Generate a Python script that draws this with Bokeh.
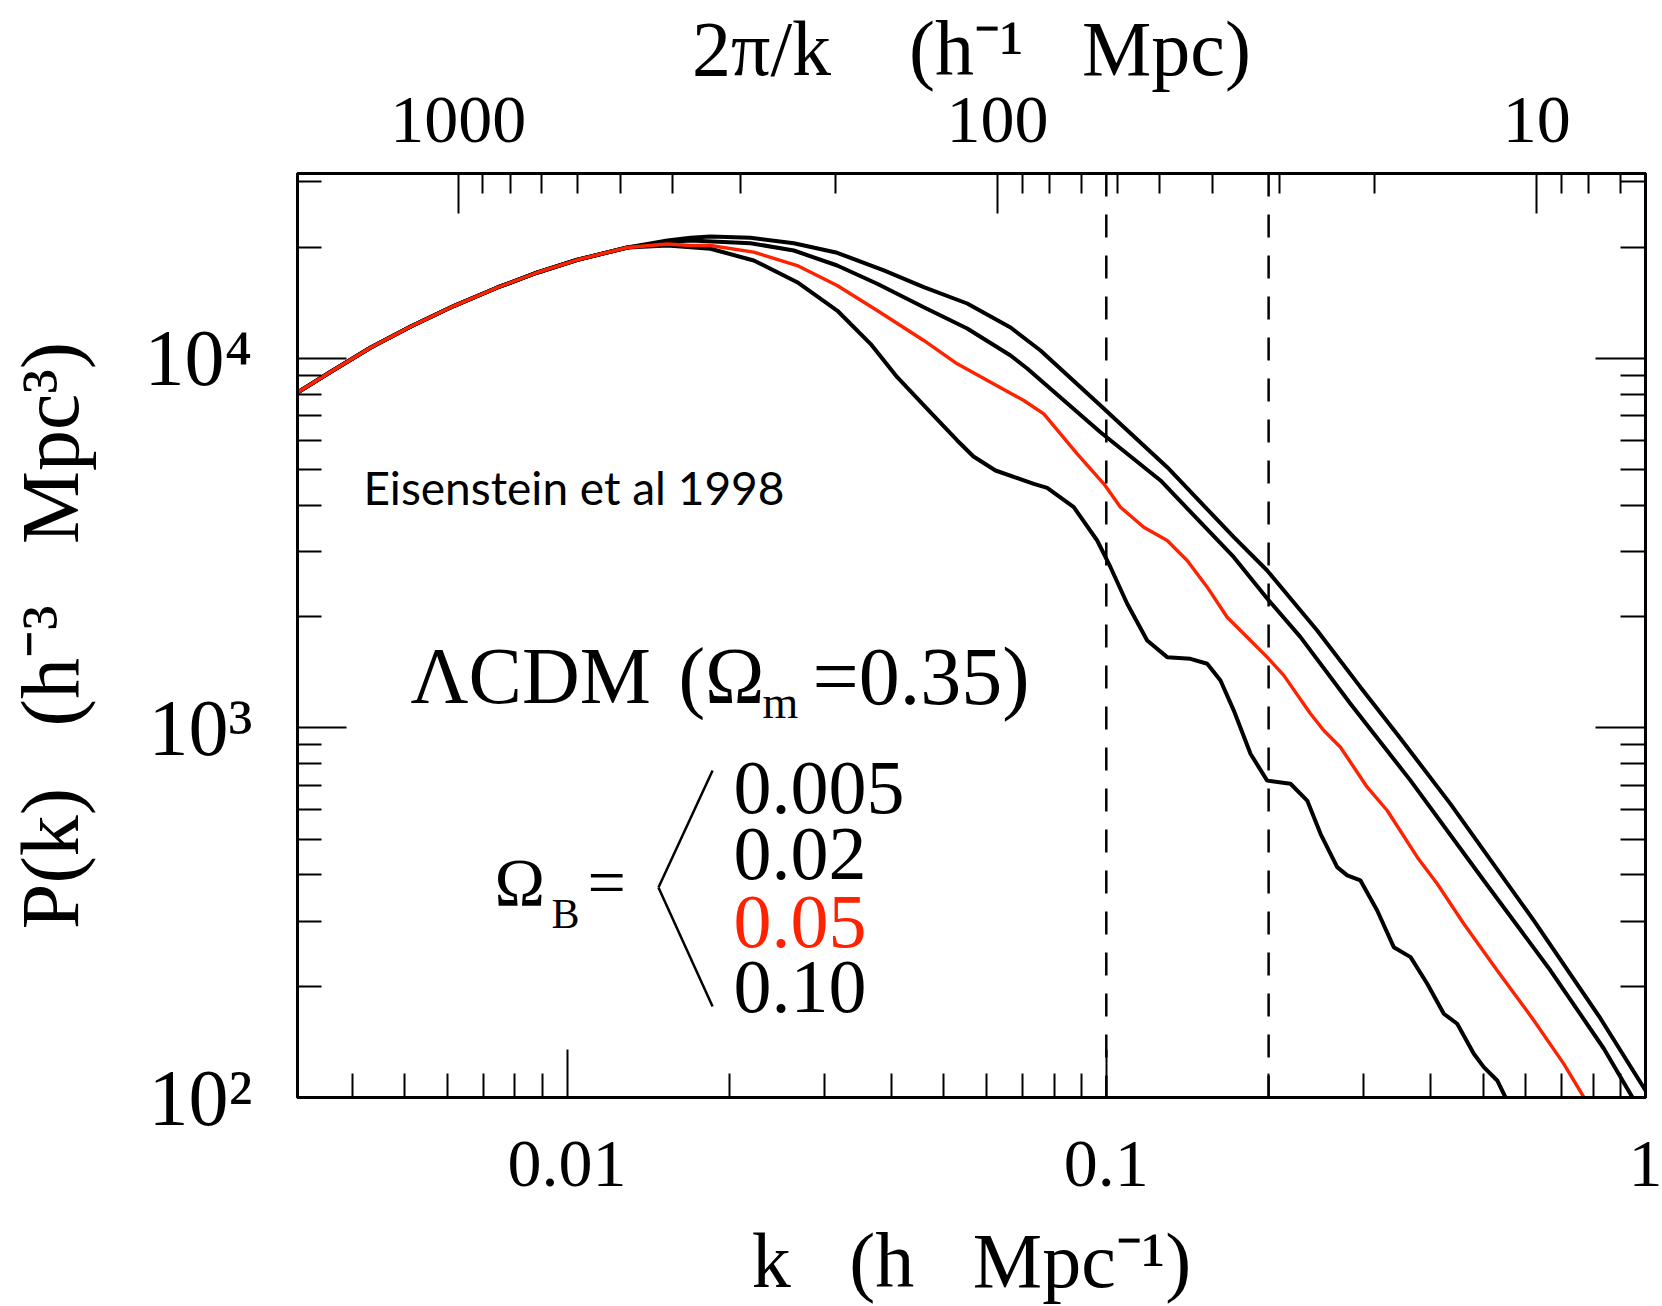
from bokeh.plotting import figure
from bokeh.models import (FixedTicker, LogAxis, CustomJSTickFormatter, Label, Span,
                          Arrow, Range1d)
from bokeh.embed import file_html
from bokeh.resources import INLINE
import math

# ---------------- data ----------------
K_COMMON = [0.003162, 0.003646, 0.004324, 0.005129, 0.006175, 0.007428, 0.008814, 0.010455, 0.012942]
P_COMMON = [8080, 9193, 10696, 12190, 13868, 15546, 17069, 18475, 19943]

# Omega_B = 0.005
K_005 = K_COMMON + [0.015356, 0.016939, 0.018446, 0.021878, 0.026331, 0.031688, 0.038673, 0.045867,
                    0.055208, 0.066438, 0.075509, 0.097543, 0.12969, 0.17239, 0.19877, 0.24609,
                    0.29606, 0.35129, 0.43471, 0.62086, 0.82507, 1.0]
P_005 = P_COMMON + [20834, 21184, 21357, 21184, 20484, 19298, 17286, 15574,
                    14069, 12114, 10498, 7452, 5075, 3281, 2666, 1834,
                    1289, 936, 623, 301, 163.6, 104.5]

# Omega_B = 0.02
K_02 = K_COMMON + [0.015356, 0.016939, 0.021878, 0.026331, 0.031688, 0.037594, 0.045867, 0.055208,
                   0.066438, 0.071335, 0.097543, 0.12604, 0.17239, 0.19877, 0.22918, 0.28366,
                   0.36669, 0.50130, 0.66648, 0.83673, 0.94606]
P_02 = P_COMMON + [20640, 20834, 20484, 19572, 17827, 15907, 13749, 12039,
                   10176, 9385, 6311, 4671, 2897, 2239, 1760, 1162,
                   720, 386.5, 220.6, 135.7, 100.0]

# Omega_B = 0.05 (red)
K_05 = K_COMMON + [0.015356, 0.016939, 0.018446, 0.022193, 0.026715, 0.031688, 0.037594, 0.045867,
                   0.052906, 0.066438, 0.070307, 0.076578, 0.088308, 0.098946, 0.10624, 0.11737,
                   0.12969, 0.14125, 0.15389, 0.16757, 0.18511, 0.19877, 0.21340, 0.23917,
                   0.25317, 0.27182, 0.30471, 0.33189, 0.37731, 0.41089, 0.46026, 0.53088,
                   0.62086, 0.70551, 0.76843]
P_05 = P_COMMON + [20385, 20195, 20195, 19370, 17827, 15740, 13467, 11175,
                   9663, 8047, 7689, 7076, 5515, 4575, 3955, 3491,
                   3214, 2838, 2403, 1993, 1724, 1554, 1387, 1092,
                   984, 886.7, 691, 597.7, 446.9, 378.6, 295.1, 220.6,
                   161.6, 123.3, 100.2]

# Omega_B = 0.10
K_10 = K_COMMON + [0.015356, 0.016939, 0.018446, 0.022193, 0.026715, 0.031688, 0.036536, 0.040950,
                   0.047206, 0.052906, 0.056710, 0.062304, 0.073367, 0.077693, 0.087035, 0.096183,
                   0.10181, 0.10934, 0.11908, 0.12969, 0.14324, 0.15389, 0.16285, 0.17239,
                   0.18511, 0.19877, 0.21958, 0.23584, 0.24964, 0.26804, 0.27974, 0.29606,
                   0.31799, 0.34131, 0.36669, 0.39373, 0.42260, 0.44747, 0.48042, 0.50130,
                   0.53088, 0.55004]
P_10 = P_COMMON + [20195, 19983, 19786, 18394, 16066, 13467, 10944, 8890,
                   7136, 5993, 5425, 4971, 4575, 4463, 3955, 3214,
                   2721, 2167, 1724, 1554, 1538, 1491, 1344, 1114,
                   851, 720, 706, 636, 517, 420, 399, 386.5,
                   320.6, 255.1, 239.8, 203.1, 168.5, 158.3, 131.3, 120.8,
                   111.2, 100]

DASHED_K = [0.1, 0.2]
OMEGA_B_LABELS = ["0.005", "0.02", "0.05", "0.10"]

# axis ticks
K_MAJOR = [0.01, 0.1, 1.0]
K_MINOR = [0.004, 0.005, 0.006, 0.007, 0.008, 0.009,
           0.02, 0.03, 0.04, 0.05, 0.06, 0.07, 0.08, 0.09,
           0.2, 0.3, 0.4, 0.5, 0.6, 0.7, 0.8, 0.9]
P_MAJOR = [100, 1000, 10000]
P_MINOR = [200, 300, 400, 500, 600, 700, 800, 900,
           2000, 3000, 4000, 5000, 6000, 7000, 8000, 9000,
           20000, 30000]
L_MAJOR = [1000, 100, 10]          # 2pi/k  (h^-1 Mpc)
L_MINOR = [900, 800, 700, 600, 500, 400, 300, 200,
           90, 80, 70, 60, 50, 40, 30, 20, 9, 8, 7]

X_MIN, X_MAX = 10 ** -2.5, 1.0
Y_MIN, Y_MAX = 100.0, 10 ** 4.5

RED = "#ff2200"
SERIF = "Liberation Serif"
NB = "\u00a0"

# ---------------- figure ----------------
p = figure(frame_width=1348, frame_height=924,
           x_axis_type="log", y_axis_type="log",
           x_range=Range1d(X_MIN, X_MAX), y_range=Range1d(Y_MIN, Y_MAX),
           output_backend="svg", toolbar_location=None,
           min_border_left=297, min_border_right=17,
           min_border_top=173, min_border_bottom=209,
           background_fill_color="white", border_fill_color="white")
p.grid.visible = False
p.outline_line_color = "black"
p.outline_line_width = 3


def style_axis(ax, tin, tmin):
    ax.axis_line_color = "black"
    ax.axis_line_width = 3
    ax.major_tick_in = tin
    ax.major_tick_out = 0
    ax.minor_tick_in = tmin
    ax.minor_tick_out = 0
    ax.major_tick_line_width = 2
    ax.minor_tick_line_width = 2
    ax.major_tick_line_color = "black"
    ax.minor_tick_line_color = "black"
    ax.major_label_text_color = "black"
    ax.major_label_text_font = SERIF
    ax.axis_label_text_font = SERIF
    ax.axis_label_text_font_style = "normal"
    ax.axis_label_text_color = "black"


x_ticker = FixedTicker(ticks=K_MAJOR, minor_ticks=K_MINOR)
y_ticker = FixedTicker(ticks=P_MAJOR, minor_ticks=P_MINOR)
top_ticker = FixedTicker(ticks=[2 * math.pi / v for v in L_MAJOR],
                         minor_ticks=[2 * math.pi / v for v in L_MINOR])

sup_fmt = CustomJSTickFormatter(code="""
const sup = {"0":"\u2070","1":"\u00b9","2":"\u00b2","3":"\u00b3","4":"\u2074","5":"\u2075",
             "6":"\u2076","7":"\u2077","8":"\u2078","9":"\u2079","-":"\u207b"};
const e = Math.round(Math.log10(tick)).toString();
return "10" + e.split("").map(c => sup[c]).join("");
""")

# bottom
xa = p.xaxis[0]
xa.ticker = x_ticker
xa.formatter = CustomJSTickFormatter(code="return tick.toString();")
style_axis(xa, 48, 24)
xa.major_label_text_font_size = "68px"
xa.major_label_standoff = 44
xa.axis_label = "k" + NB * 3 + "(h" + NB * 3 + "Mpc\u207b\u00b9)"
xa.axis_label_text_font_size = "78px"
xa.axis_label_standoff = 28

# left
ya = p.yaxis[0]
ya.ticker = y_ticker
ya.formatter = sup_fmt
style_axis(ya, 49, 24)
ya.major_label_text_font_size = "80px"
ya.major_label_standoff = 45
ya.axis_label = "P(k)" + NB * 3 + "(h\u207b\u00b3" + NB * 3 + "Mpc\u00b3)"
ya.axis_label_text_font_size = "82px"
ya.axis_label_standoff = 46

# top
ta = LogAxis(ticker=top_ticker,
             formatter=CustomJSTickFormatter(code="return Math.round(2*Math.PI/tick).toString();"))
style_axis(ta, 40, 20)
ta.major_label_text_font_size = "68px"
ta.major_label_standoff = 32
ta.axis_label = "2\u03c0/k" + NB * 4 + "(h\u207b\u00b9" + NB * 3 + "Mpc)"
ta.axis_label_text_font_size = "78px"
ta.axis_label_standoff = 3
p.add_layout(ta, "above")

# right
ra = LogAxis(ticker=y_ticker)
style_axis(ra, 50, 25)
ra.major_label_text_font_size = "0px"
ra.major_label_standoff = 0
ra.formatter = CustomJSTickFormatter(code="return '';")
p.add_layout(ra, "right")

# ---------------- curves ----------------
p.line(K_005, P_005, line_color="black", line_width=4)
p.line(K_02, P_02, line_color="black", line_width=4)
p.line(K_10, P_10, line_color="black", line_width=4)
p.line(K_05, P_05, line_color=RED, line_width=3.4)

for kd in DASHED_K:
    p.add_layout(Span(location=kd, dimension="height", line_color="black",
                      line_width=2.5, line_dash="23 18"))

# ---------------- annotations ----------------
def lab(x, y, text, size, font=SERIF, color="black"):
    p.add_layout(Label(x=x, y=y, text=text, text_font=font, text_font_size=size,
                       text_color=color, text_baseline="middle", text_align="left"))

lab(0.00419, 4467, "Eisenstein et al 1998", "46px", font="Lato")

lab(0.005124, 1377.6, "\u039bCDM", "80px")
lab(0.016088, 1377.6, "(\u03a9", "80px")
lab(0.023035, 1168, "m", "46px")
lab(0.028514, 1377.6, "=0.35)", "82px")

lab(0.007335, 381.7, "\u03a9", "68px")
lab(0.009356, 313.1, "B", "42px")
lab(0.010908, 381.7, "=", "68px")

num_y = [688.1, 456.1, 298.7, 199.1]
for txt, yy in zip(OMEGA_B_LABELS, num_y):
    lab(0.020355, yy, txt, "76px", color=RED if txt == "0.05" else "black")

# brace
p.add_layout(Arrow(end=None, x_start=0.018614, y_start=766.9, x_end=0.014772, y_end=370.1,
                   line_color="black", line_width=2.5))
p.add_layout(Arrow(end=None, x_start=0.014772, y_start=370.1, x_end=0.018614, y_end=176.3,
                   line_color="black", line_width=2.5))

open("out.html", "w").write(file_html(p, INLINE))
